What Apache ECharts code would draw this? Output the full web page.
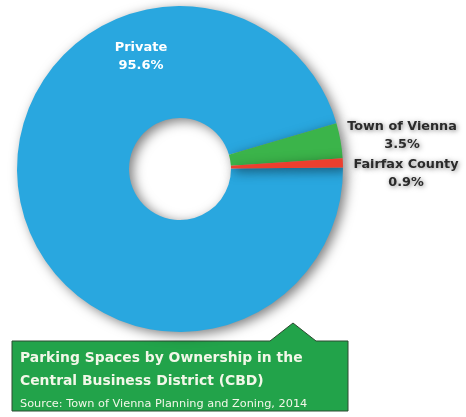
<!DOCTYPE html>
<html>
<head>
<meta charset="utf-8">
<script src="https://cdn.jsdelivr.net/npm/echarts@6/dist/echarts.min.js"></script>
<style>
html,body{margin:0;padding:0;background:#fff;}
#chart{width:466px;height:417px;}
</style>
</head>
<body>
<div id="chart"></div>
<script>
// ownership categories and share of parking spaces (%)
const owners = ['Private', 'Town of Vienna', 'Fairfax County'];
const shares = [95.6, 3.5, 0.9];
const colors = ['#29a7df', '#3bb44a', '#ec3f2e'];
// where each label sits (label centre, px)
const labelPos = [[141, 57], [402, 136], [406, 174]];

const chart = echarts.init(document.getElementById('chart'));

const data = owners.map((name, i) => ({
    name: name,
    value: shares[i],
    itemStyle: {color: colors[i]},
    label: i === 0 ? {
        color: '#ffffff',
        fontSize: 13
    } : {
        color: '#2a2a2a',
        fontSize: 12.8,
        textShadowColor: 'rgba(0,0,0,0.5)',
        textShadowBlur: 5,
        textShadowOffsetX: 1,
        textShadowOffsetY: 1
    }
}));

const option = {
    backgroundColor: '#ffffff',
    animation: false,
    title: {
        left: 15,
        top: 342,
        text: 'Parking Spaces by Ownership in the\nCentral Business District (CBD)',
        subtext: 'Source: Town of Vienna Planning and Zoning, 2014',
        itemGap: 6,
        textStyle: {
            fontFamily: 'DejaVu Sans',
            fontWeight: 'bold',
            fontSize: 13.9,
            lineHeight: 23,
            color: '#f2f7e8'
        },
        subtextStyle: {
            fontFamily: 'DejaVu Sans',
            fontSize: 11.3,
            color: '#f2f7e8'
        },
        z: 10
    },
    graphic: [{
        type: 'polygon',
        z: 1,
        shape: {
            points: [[12, 341], [270, 341], [293, 323], [316, 341], [348, 341], [348, 411], [12, 411]]
        },
        style: {
            fill: '#22a34a',
            stroke: '#2c4a30',
            lineWidth: 1
        }
    }],
    series: [{
        type: 'pie',
        center: [180, 169],
        radius: [51, 163],
        startAngle: 0.5,
        clockwise: true,
        z: 2,
        data: data,
        itemStyle: {
            shadowColor: 'rgba(0,0,0,0.5)',
            shadowBlur: 12,
            shadowOffsetX: 4,
            shadowOffsetY: 3
        },
        emphasis: {disabled: true},
        label: {
            show: true,
            position: 'inside',
            formatter: '{b}\n{c}%',
            fontFamily: 'DejaVu Sans',
            fontWeight: 'bold',
            lineHeight: 18,
            align: 'center'
        },
        labelLine: {show: false},
        labelLayout: function (params) {
            const p = labelPos[params.dataIndex];
            return {x: p[0], y: p[1], align: 'center', verticalAlign: 'middle'};
        }
    }]
};

chart.setOption(option);
</script>
</body>
</html>
